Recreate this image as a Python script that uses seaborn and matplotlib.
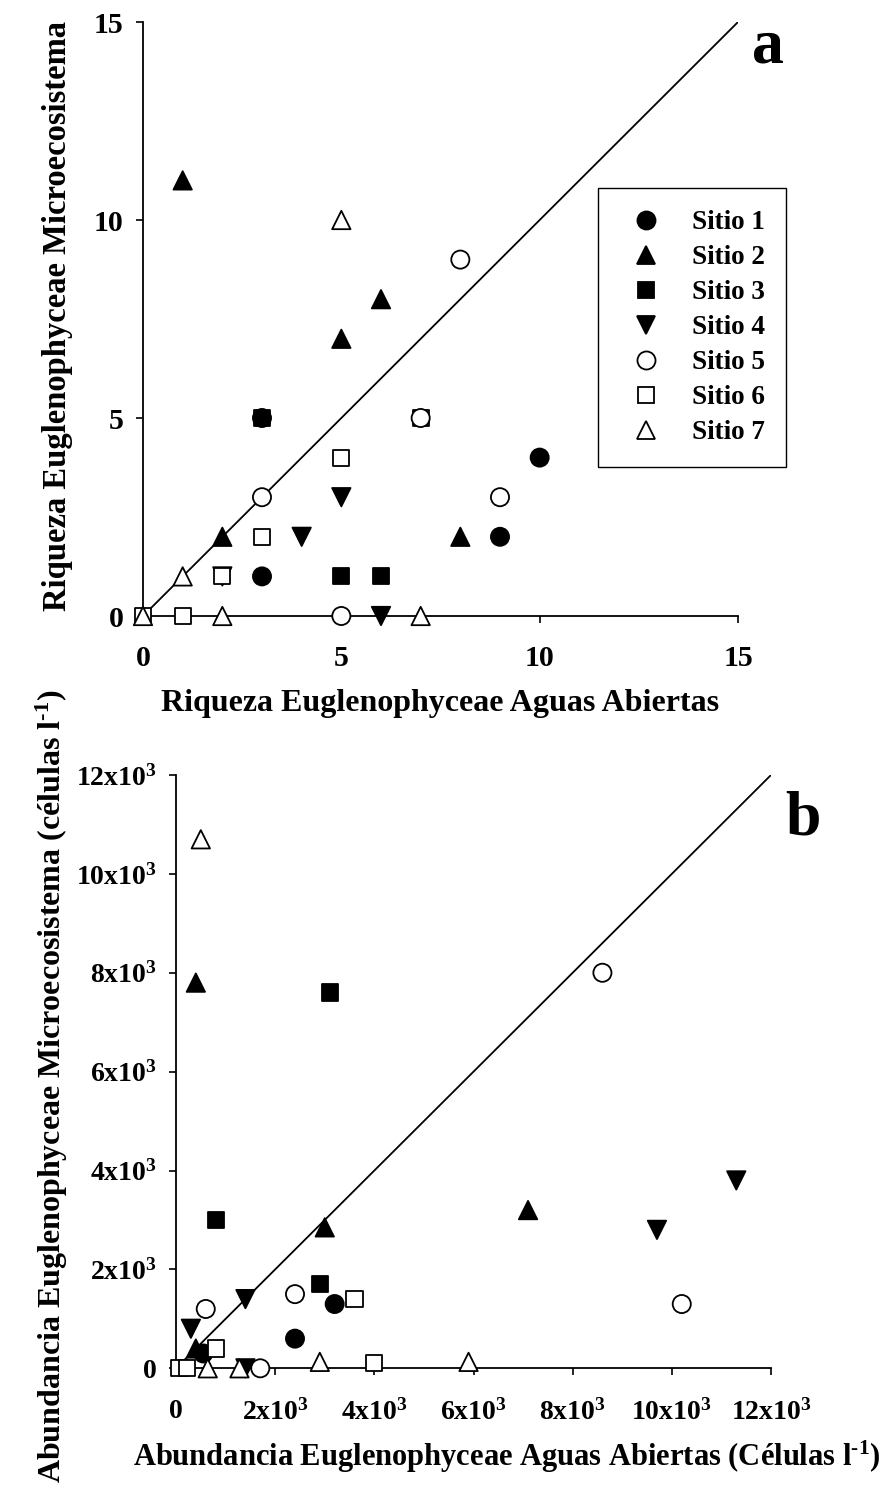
import matplotlib
matplotlib.use("Agg")
import matplotlib.pyplot as plt
import seaborn as sns
import pandas as pd
from matplotlib.lines import Line2D

# ---------------- data ----------------
site_names = ["Sitio 1", "Sitio 2", "Sitio 3", "Sitio 4", "Sitio 5", "Sitio 6", "Sitio 7"]
site_markers = {"Sitio 1": "o", "Sitio 2": "^", "Sitio 3": "s", "Sitio 4": "v",
                "Sitio 5": "o", "Sitio 6": "s", "Sitio 7": "^"}
site_faces = {"Sitio 1": "black", "Sitio 2": "black", "Sitio 3": "black", "Sitio 4": "black",
              "Sitio 5": "white", "Sitio 6": "white", "Sitio 7": "white"}
draw_order = ["Sitio 3", "Sitio 4", "Sitio 2", "Sitio 1", "Sitio 6", "Sitio 5", "Sitio 7"]

# Panel a: richness (open water x, microecosystem y)
rich_s1_x = [3, 3, 10, 9]
rich_s1_y = [5, 1, 4, 2]
rich_s2_x = [1, 6, 5, 2, 8]
rich_s2_y = [11, 8, 7, 2, 2]
rich_s3_x = [3, 5, 6]
rich_s3_y = [5, 1, 1]
rich_s4_x = [5, 4, 2, 6]
rich_s4_y = [3, 2, 1, 0]
rich_s5_x = [8, 7, 3, 9, 5]
rich_s5_y = [9, 5, 3, 3, 0]
rich_s6_x = [7, 5, 3, 2, 0, 1]
rich_s6_y = [5, 4, 2, 1, 0, 0]
rich_s7_x = [5, 1, 0, 2, 7]
rich_s7_y = [10, 1, 0, 0, 0]

# Panel b: abundance (cells/l)
abun_s1_x = [550, 2400, 3200]
abun_s1_y = [300, 600, 1300]
abun_s2_x = [400, 400, 3000, 7100]
abun_s2_y = [7800, 400, 2850, 3200]
abun_s3_x = [3100, 800, 2900]
abun_s3_y = [7600, 3000, 1700]
abun_s4_x = [300, 1400, 1400, 9700, 11300]
abun_s4_y = [800, 1400, 0, 2800, 3800]
abun_s5_x = [8600, 600, 2400, 1700, 10200]
abun_s5_y = [8000, 1200, 1500, 0, 1300]
abun_s6_x = [3600, 800, 70, 230, 4000]
abun_s6_y = [1400, 400, 0, 0, 100]
abun_s7_x = [500, 640, 1280, 2900, 5900]
abun_s7_y = [10700, 0, 0, 130, 130]

rich_ticks = [0, 5, 10, 15]
abun_ticks = [0, 2000, 4000, 6000, 8000, 10000, 12000]
abun_ticklabels = ["0", "2x10$^{3}$", "4x10$^{3}$", "6x10$^{3}$", "8x10$^{3}$",
                   "10x10$^{3}$", "12x10$^{3}$"]

rich = {"Sitio 1": (rich_s1_x, rich_s1_y), "Sitio 2": (rich_s2_x, rich_s2_y),
        "Sitio 3": (rich_s3_x, rich_s3_y), "Sitio 4": (rich_s4_x, rich_s4_y),
        "Sitio 5": (rich_s5_x, rich_s5_y), "Sitio 6": (rich_s6_x, rich_s6_y),
        "Sitio 7": (rich_s7_x, rich_s7_y)}
abun = {"Sitio 1": (abun_s1_x, abun_s1_y), "Sitio 2": (abun_s2_x, abun_s2_y),
        "Sitio 3": (abun_s3_x, abun_s3_y), "Sitio 4": (abun_s4_x, abun_s4_y),
        "Sitio 5": (abun_s5_x, abun_s5_y), "Sitio 6": (abun_s6_x, abun_s6_y),
        "Sitio 7": (abun_s7_x, abun_s7_y)}


def make_df(d):
    rows = []
    for s in draw_order:
        xs, ys = d[s]
        for x, y in zip(xs, ys):
            rows.append({"x": x, "y": y, "site": s})
    return pd.DataFrame(rows)


df_a = make_df(rich)
df_b = make_df(abun)

# ---------------- style ----------------
sns.set_style("ticks")
plt.rcParams["font.family"] = ["Liberation Serif", "DejaVu Serif"]
plt.rcParams["font.weight"] = "bold"
plt.rcParams["axes.labelweight"] = "bold"
plt.rcParams["text.color"] = "black"
plt.rcParams["axes.labelcolor"] = "black"
plt.rcParams["xtick.color"] = "black"
plt.rcParams["ytick.color"] = "black"
plt.rcParams["mathtext.fontset"] = "custom"
plt.rcParams["mathtext.rm"] = "Liberation Serif:bold"
plt.rcParams["mathtext.bf"] = "Liberation Serif:bold"
plt.rcParams["mathtext.it"] = "Liberation Serif:bold"
plt.rcParams["mathtext.default"] = "bf"

sizes = {"Sitio 1": 170, "Sitio 2": 175, "Sitio 3": 135, "Sitio 4": 175,
         "Sitio 5": 170, "Sitio 6": 135, "Sitio 7": 175}

fig = plt.figure(figsize=(8.86, 14.88), dpi=100)
ax1 = fig.add_axes([143 / 886, 1 - 616 / 1488, 595 / 886, 594 / 1488])
ax2 = fig.add_axes([176 / 886, 1 - 1368.3 / 1488, 595 / 886, 593.3 / 1488])

for ax, df in [(ax1, df_a), (ax2, df_b)]:
    ax.axline((0, 0), slope=1, color="black", lw=1.3, zorder=2)
    sns.scatterplot(data=df, x="x", y="y", hue="site", style="site", size="site",
                    markers=site_markers, palette=site_faces, sizes=sizes,
                    hue_order=site_names, style_order=site_names, size_order=site_names,
                    edgecolor="black", linewidth=1.3, legend=False, clip_on=False,
                    zorder=3, ax=ax)
    sns.despine(ax=ax)
    for sp in ["left", "bottom"]:
        ax.spines[sp].set_linewidth(1.3)
        ax.spines[sp].set_color("black")

# Panel a axes
ax1.set_xlim(0, 15)
ax1.set_ylim(0, 15)
ax1.set_xticks(rich_ticks)
ax1.set_yticks(rich_ticks)
ax1.tick_params(axis="both", direction="out", length=5, width=1.2, labelsize=21.5,
                colors="black", labelcolor="black")
ax1.tick_params(axis="x", pad=16)
ax1.tick_params(axis="y", pad=9)
ax1.set_xlabel("Riqueza Euglenophyceae Aguas Abiertas", fontsize=23, fontweight="bold",
               labelpad=12, color="black")
ax1.set_ylabel("Riqueza Euglenophyceae Microecosistema", fontsize=23.5, fontweight="bold",
               labelpad=15, color="black")
ax1.yaxis.label.set_y(0.505)
ax1.text(15.75, 14.35, "a", fontsize=46, fontweight="bold", ha="center", va="center",
         color="black")

handles = [Line2D([], [], linestyle="none", marker=site_markers[s],
                  markersize=(12 if site_markers[s] == "s" else 13),
                  markerfacecolor=site_faces[s], markeredgecolor="black", markeredgewidth=1.3)
           for s in site_names]
leg = ax1.legend(handles, site_names, loc="upper left", bbox_to_anchor=(0.765, 0.72),
                 borderaxespad=0, fontsize=19.5, frameon=True, fancybox=False,
                 edgecolor="black", handlelength=1.9, handletextpad=0.75,
                 labelspacing=0.37, borderpad=0.8)
leg.get_frame().set_linewidth(1.0)
leg.get_frame().set_alpha(1)
for t in leg.get_texts():
    t.set_fontweight("bold")
    t.set_color("black")

# Panel b axes
ax2.set_xlim(0, 12000)
ax2.set_ylim(0, 12000)
ax2.set_xticks(abun_ticks)
ax2.set_xticklabels(abun_ticklabels)
ax2.set_yticks(abun_ticks)
ax2.set_yticklabels(abun_ticklabels)
ax2.tick_params(axis="both", direction="out", length=5, width=1.2, labelsize=20,
                colors="black", labelcolor="black")
ax2.tick_params(axis="x", pad=17)
ax2.tick_params(axis="y", pad=9)
ax2.set_xlabel(r"Abundancia Euglenophyceae Aguas Abiertas (Células l$^{\text{-1}}$)",
               fontsize=22, fontweight="bold", labelpad=10, color="black")
ax2.xaxis.label.set_x(0.555)
ax2.set_ylabel(r"Abundancia Euglenophyceae Microecosistema (células l$^{\text{-1}}$)",
               fontsize=23, fontweight="bold", labelpad=4, color="black")
ax2.yaxis.label.set_y(0.476)
ax2.text(12650, 11100, "b", fontsize=46, fontweight="bold", ha="center", va="center",
         color="black")

fig.savefig("out.png", dpi=100)
